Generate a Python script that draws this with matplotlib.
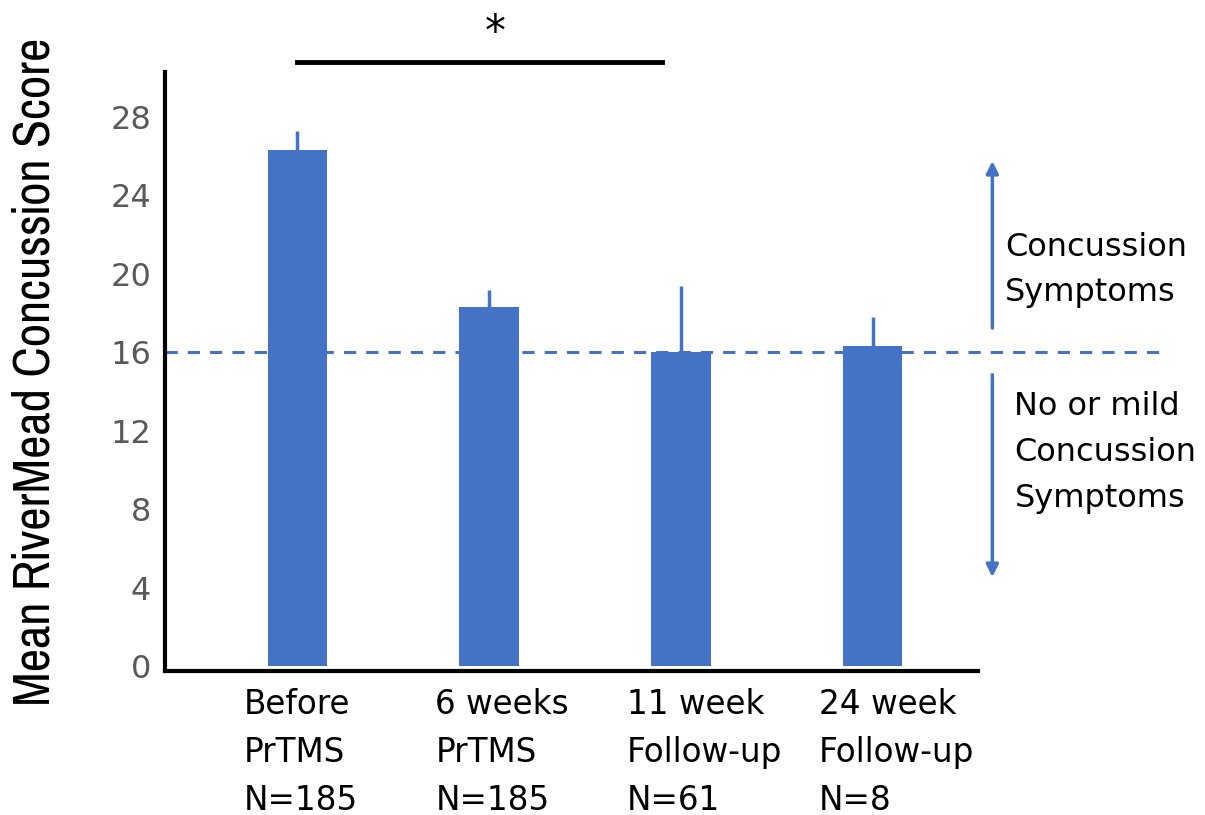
import matplotlib
matplotlib.use("Agg")
import matplotlib.pyplot as plt
from matplotlib import font_manager

# data
groups = ["Before\nPrTMS\nN=185", "6 weeks\nPrTMS\nN=185",
          "11 week\nFollow-up\nN=61", "24 week\nFollow-up\nN=8"]
means = [26.3, 18.3, 16.0, 16.3]
err_up = [1.0, 0.9, 3.4, 1.5]
cutoff = 16.0
yticks = [0, 4, 8, 12, 16, 20, 24, 28]

blue = "#4472C4"

# look for a condensed face (regular weight) for the y label
cands = []
for p in font_manager.findSystemFonts():
    n = p.lower().replace("\\", "/").split("/")[-1]
    if not ("narrow" in n or "condensed" in n):
        continue
    if any(k in n for k in ["bold", "oblique", "italic", "light", "thin", "black", "extra", "semi", "medium"]):
        continue
    cands.append(p)
cands.sort(key=lambda p: (0 if "regular" in p.lower() else 1, len(p)))
if cands:
    ylab_font = font_manager.FontProperties(fname=cands[0], size=40)
else:
    ylab_font = font_manager.FontProperties(family="DejaVu Sans", size=26)

plt.rcParams["font.family"] = ["DejaVu Sans"]

fig = plt.figure(figsize=(12.05, 8.15), dpi=100)
ax = fig.add_axes([0.137, 0.1767, 0.6746, 0.735])

x = list(range(len(means)))
ax.bar(x, means, width=0.31, color=blue, zorder=2)
ax.errorbar(x, means, yerr=[[0] * len(err_up), err_up], fmt="none",
            ecolor=blue, elinewidth=2.5, capsize=0, zorder=3)

ax.set_xlim(-0.69, 3.55)
ax.set_ylim(-0.25, 30.3)
ax.set_yticks(yticks)
ax.set_yticklabels([str(v) for v in yticks], color="#595959", fontsize=23)
ax.tick_params(axis="y", length=0, pad=10)
ax.set_xticks([])
for s in ["top", "right"]:
    ax.spines[s].set_visible(False)
for s in ["left", "bottom"]:
    ax.spines[s].set_linewidth(3)

ax.set_ylabel("Mean RiverMead Concussion Score", fontproperties=ylab_font)
ax.yaxis.set_label_coords(-0.131, 0.5)

# group labels below the bars
for i, lab in enumerate(groups):
    ax.text(i - 0.28, -1.1, lab, ha="left", va="top", fontsize=23.5,
            linespacing=1.58, clip_on=False)

# cutoff line
ax.plot([-0.69, 4.52], [cutoff, cutoff], color=blue, lw=2.2,
        linestyle=(0, (4, 3.3)), clip_on=False, zorder=1)

# significance bracket
ax.plot([0, 1.9], [30.8, 30.8], color="black", lw=3.5, clip_on=False)
ax.text(1.03, 31.2, "*", ha="center", va="bottom", fontsize=30, clip_on=False)

# arrows and side labels
ax.annotate("", xy=(3.625, 25.9), xytext=(3.625, 17.1), annotation_clip=False,
            arrowprops=dict(arrowstyle="-|>", color=blue, lw=2.5, mutation_scale=18))
ax.annotate("", xy=(3.625, 4.4), xytext=(3.625, 15.0), annotation_clip=False,
            arrowprops=dict(arrowstyle="-|>", color=blue, lw=2.5, mutation_scale=18))
ax.text(3.69, 20.2, "Concussion\nSymptoms", ha="left", va="center", fontsize=23,
        linespacing=1.62, clip_on=False)
ax.text(3.74, 10.9, "No or mild\nConcussion\nSymptoms", ha="left", va="center",
        fontsize=23, linespacing=1.62, clip_on=False)

fig.savefig("out.png", dpi=100)
